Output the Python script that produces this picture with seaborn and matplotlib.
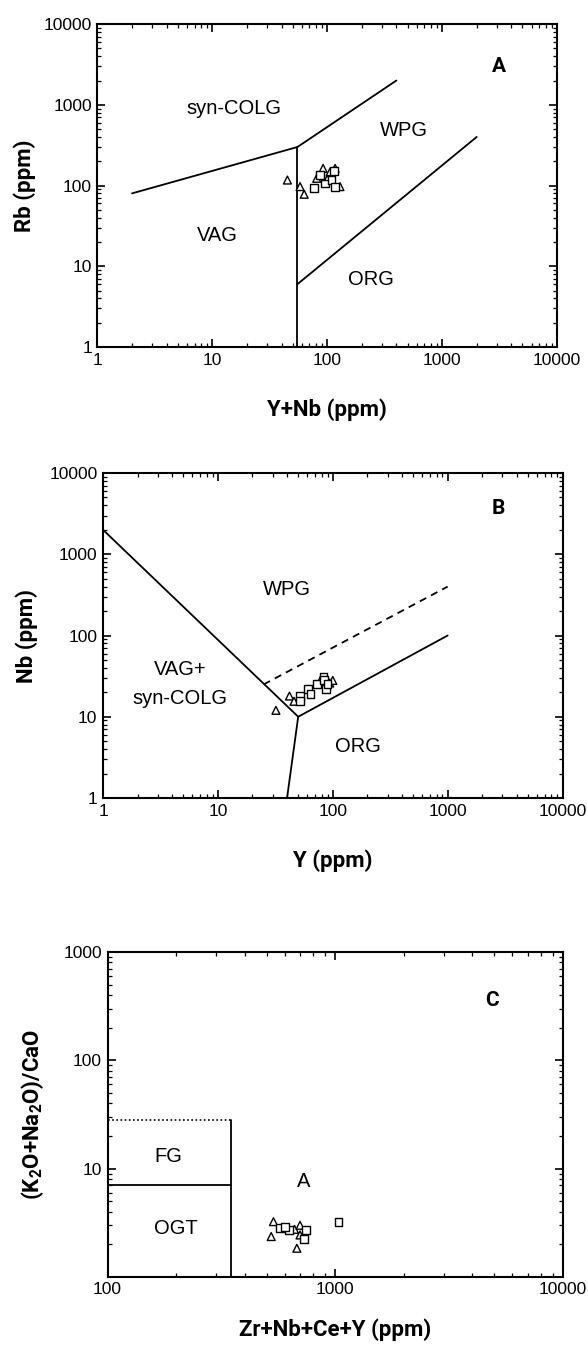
import matplotlib
matplotlib.use("Agg")
import matplotlib.pyplot as plt
import matplotlib.ticker as mticker
import seaborn as sns
import pandas as pd

# ---------------- data ----------------
# Panel A: Rb vs Y+Nb
a_tri_x = [45, 58, 63, 81, 92, 106, 117, 129, 100]
a_tri_y = [117, 97, 78, 123, 163, 148, 163, 97, 120]
a_sq_x = [77, 86, 96, 109, 117, 115]
a_sq_y = [94, 135, 106, 117, 97, 150]

# Panel B: Nb vs Y
b_tri_x = [32, 42, 46, 94, 100, 80]
b_tri_y = [12, 18, 15.5, 26, 28, 30]
b_sq_x = [52, 52, 61, 64, 73, 83, 84, 87, 90]
b_sq_y = [18, 15.5, 22, 19, 25, 31, 28, 22, 25]

# Panel C: (K2O+Na2O)/CaO vs Zr+Nb+Ce+Y
c_tri_x = [535, 523, 662, 678, 700, 700]
c_tri_y = [3.24, 2.36, 2.75, 1.84, 3.0, 2.44]
c_sq_x = [574, 626, 742, 728, 1033, 600]
c_sq_y = [2.82, 2.72, 2.72, 2.23, 3.24, 2.9]

# discrimination boundaries
a_lines = [
    ([2, 55], [80, 300]),
    ([55, 400], [300, 2000]),
    ([55, 55], [1, 300]),
    ([55, 2000], [6, 400]),
]
b_lines = [
    ([1, 50], [2000, 10]),
    ([50, 1000], [10, 100]),
    ([50, 40], [10, 1]),
]
b_dashed = ([25, 1000], [25, 400])
c_solid = [([350, 350], [1, 28]), ([100, 350], [7, 7])]
c_dotted = ([100, 350], [28, 28])

# ---------------- style ----------------
sns.set_style("ticks")
plt.rcParams["font.family"] = ["Liberation Sans", "DejaVu Sans"]
plt.rcParams["mathtext.fontset"] = "custom"
plt.rcParams["mathtext.rm"] = "Roboto:bold"
plt.rcParams["mathtext.bf"] = "Roboto:bold"
plt.rcParams["mathtext.it"] = "Roboto:bold"
for k in ["text.color", "axes.labelcolor", "xtick.color", "ytick.color", "axes.edgecolor"]:
    plt.rcParams[k] = "black"

BOLD = ["Roboto", "Liberation Sans", "DejaVu Sans"]
LAB = 16
TICK = 12.5
REG = 14.5
LET = 15

fig = plt.figure(figsize=(5.88, 13.45), dpi=100)
axA = fig.add_axes([0.1658, 0.742, 0.7815, 0.2401])
axB = fig.add_axes([0.1752, 0.4067, 0.7815, 0.2416])
axC = fig.add_axes([0.183, 0.0506, 0.7745, 0.2416])


def fmt(v, _):
    return f"{v:g}"


def style_axis(ax, xlim, ylim):
    ax.set_xscale("log")
    ax.set_yscale("log")
    ax.set_xlim(*xlim)
    ax.set_ylim(*ylim)
    for sp in ax.spines.values():
        sp.set_linewidth(1.5)
        sp.set_color("black")
    ax.tick_params(which="both", direction="in", top=True, right=True,
                   color="black", labelsize=TICK)
    ax.tick_params(which="major", length=6, width=1.2, pad=4)
    ax.tick_params(which="minor", length=3, width=0.9)
    ax.xaxis.set_major_formatter(mticker.FuncFormatter(fmt))
    ax.yaxis.set_major_formatter(mticker.FuncFormatter(fmt))
    ax.xaxis.set_minor_formatter(mticker.NullFormatter())
    ax.yaxis.set_minor_formatter(mticker.NullFormatter())


def draw_line(ax, xs, ys, ls="-", lw=1.3):
    sns.lineplot(x=xs, y=ys, ax=ax, color="black", sort=False,
                 estimator=None, linewidth=lw, linestyle=ls)


def draw_points(ax, tx, ty, sx, sy):
    df = pd.DataFrame({
        "x": list(tx) + list(sx),
        "y": list(ty) + list(sy),
        "kind": ["tri"] * len(tx) + ["sq"] * len(sx),
    })
    sns.scatterplot(data=df, x="x", y="y", style="kind",
                    markers={"tri": "^", "sq": "s"}, ax=ax,
                    facecolor="white", edgecolor="black", linewidth=1.0,
                    s=32, legend=False, zorder=5)


def labels(ax, xl, yl, xpos, ypos):
    ax.set_xlabel(xl, fontsize=LAB, fontweight="bold", family=BOLD)
    ax.set_ylabel(yl, fontsize=LAB, fontweight="bold", family=BOLD)
    ax.xaxis.set_label_coords(0.5, xpos)
    ax.yaxis.set_label_coords(ypos, 0.5)


def letter(ax, x, y, s):
    ax.text(x, y, s, ha="center", va="center", fontsize=LET,
            fontweight="bold", family=BOLD)


# ---- Panel A ----
style_axis(axA, (1, 10000), (1, 10000))
for xs, ys in a_lines:
    draw_line(axA, xs, ys)
draw_points(axA, a_tri_x, a_tri_y, a_sq_x, a_sq_y)
axA.set_xticks([1, 10, 100, 1000, 10000])
axA.set_yticks([1, 10, 100, 1000, 10000])
axA.text(15.4, 890, "syn-COLG", ha="center", va="center", fontsize=REG)
axA.text(466, 475, "WPG", ha="center", va="center", fontsize=REG)
axA.text(11, 24, "VAG", ha="center", va="center", fontsize=REG)
axA.text(240, 6.9, "ORG", ha="center", va="center", fontsize=REG)
letter(axA, 3100, 3000, "A")
labels(axA, "Y+Nb (ppm)", "Rb (ppm)", -0.158, -0.134)

# ---- Panel B ----
style_axis(axB, (1, 10000), (1, 10000))
for xs, ys in b_lines:
    draw_line(axB, xs, ys)
draw_line(axB, b_dashed[0], b_dashed[1], ls=(0, (4, 3)))
draw_points(axB, b_tri_x, b_tri_y, b_sq_x, b_sq_y)
axB.set_xticks([1, 10, 100, 1000, 10000])
axB.set_yticks([1, 10, 100, 1000, 10000])
axB.text(40, 367, "WPG", ha="center", va="center", fontsize=REG)
axB.text(4.7, 38.5, "VAG+", ha="center", va="center", fontsize=REG)
axB.text(4.7, 17, "syn-COLG", ha="center", va="center", fontsize=REG)
axB.text(166, 4.3, "ORG", ha="center", va="center", fontsize=REG)
letter(axB, 2750, 3700, "B")
labels(axB, "Y (ppm)", "Nb (ppm)", -0.158, -0.1425)

# ---- Panel C ----
style_axis(axC, (100, 10000), (1, 1000))
for xs, ys in c_solid:
    draw_line(axC, xs, ys)
draw_line(axC, c_dotted[0], c_dotted[1], ls=(0, (1, 1.5)), lw=1.2)
draw_points(axC, c_tri_x, c_tri_y, c_sq_x, c_sq_y)
axC.set_xticks([100, 1000, 10000])
axC.set_yticks([10, 100, 1000])
axC.text(185, 13, "FG", ha="center", va="center", fontsize=REG)
axC.text(199, 2.8, "OGT", ha="center", va="center", fontsize=REG)
axC.text(728, 7.6, "A", ha="center", va="center", fontsize=REG)
letter(axC, 4860, 360, "C")
labels(axC, "Zr+Nb+Ce+Y (ppm)", r"(K$_{2}$O+Na$_{2}$O)/CaO", -0.128, -0.136)

fig.savefig("out.png", dpi=100, facecolor="white")
